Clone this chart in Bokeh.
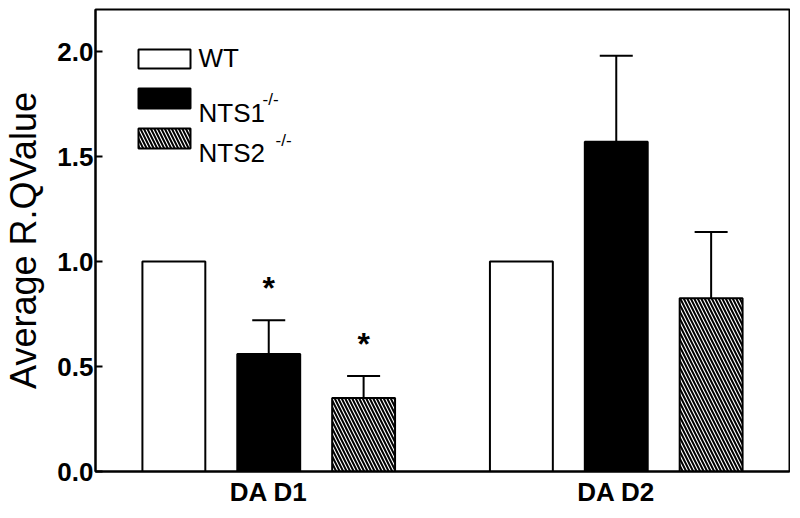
from bokeh.plotting import figure
from bokeh.models import (FactorRange, Range1d, ColumnDataSource, Whisker, TeeHead,
                          FixedTicker, Label, BoxAnnotation)
from bokeh.core.properties import value
from bokeh.embed import file_html
from bokeh.resources import INLINE

# ---- data ----
genes = ["DA D1", "DA D2"]
genotypes = ["WT", "NTS1", "NTS2"]
wt_mean = [1.0, 1.0]
wt_sem = [0.0, 0.0]
nts1_mean = [0.56, 1.57]
nts1_sem = [0.16, 0.41]
nts2_mean = [0.35, 0.825]
nts2_sem = [0.105, 0.315]
wt_star = ["", ""]
nts1_star = ["*", ""]
nts2_star = ["*", ""]
y_ticks = [0.0, 0.5, 1.0, 1.5, 2.0]
y_tick_labels = ["0.0", "0.5", "1.0", "1.5", "2.0"]
y_title = "Average R.QValue"

FONT = "Liberation Sans"

factors = [(g, t) for g in genes for t in genotypes]

p = figure(frame_width=694, frame_height=462, output_backend="svg", toolbar_location=None,
           x_range=FactorRange(*factors, group_padding=0.663,
                               range_padding=0.326, range_padding_units="absolute"),
           y_range=Range1d(0, 2.2),
           min_border_left=89, min_border_right=1, min_border_top=9, min_border_bottom=39)

p.grid.visible = False
p.outline_line_color = "black"
p.outline_line_width = 2
p.outline_line_alpha = 1
p.background_fill_color = "white"
p.border_fill_color = "white"

styles = {
    "WT": dict(fill_color="white"),
    "NTS1": dict(fill_color="black"),
    "NTS2": dict(fill_color="white", hatch_pattern="\\", hatch_color="black",
                 hatch_scale=7, hatch_weight=2),
}
series = {
    "WT": (wt_mean, wt_sem, wt_star),
    "NTS1": (nts1_mean, nts1_sem, nts1_star),
    "NTS2": (nts2_mean, nts2_sem, nts2_star),
}

for gt in genotypes:
    m, s, st = series[gt]
    src = ColumnDataSource(dict(
        x=[(g, gt) for g in genes],
        top=m,
        upper=[a + b for a, b in zip(m, s)],
        star=st,
    ))
    p.vbar(x="x", top="top", width=0.663, source=src, line_color="black",
           line_width=2, **styles[gt])
    if any(v > 0 for v in s):
        w = Whisker(base="x", upper="upper", lower="top", source=src,
                    dimension="height", line_color="black", line_width=2,
                    upper_head=TeeHead(size=33, line_width=2, line_color="black"),
                    lower_head=None)
        p.add_layout(w)
        p.text(x="x", y="upper", text="star", source=src,
               text_font=value(FONT), text_font_size="32px", text_font_style="bold",
               text_align="center", text_baseline="bottom", y_offset=-14,
               text_color="black")

# ---- axes ----
yax = p.yaxis[0]
yax.ticker = FixedTicker(ticks=y_ticks)
yax.major_label_overrides = {t: l for t, l in zip(y_ticks, y_tick_labels)}
yax.minor_tick_line_color = None
yax.major_tick_in = 7
yax.major_tick_out = 0
yax.major_tick_line_width = 2
yax.major_tick_line_color = "black"
yax.axis_line_width = 2
yax.axis_line_color = "black"
yax.major_label_text_font = FONT
yax.major_label_text_font_style = "bold"
yax.major_label_text_font_size = "26px"
yax.major_label_text_color = "black"
yax.major_label_standoff = 2
yax.axis_label = y_title
yax.axis_label_text_font = FONT
yax.axis_label_text_font_style = "normal"
yax.axis_label_text_font_size = "36px"
yax.axis_label_text_color = "black"
yax.axis_label_standoff = 10

xax = p.xaxis[0]
xax.axis_line_width = 2
xax.axis_line_color = "black"
xax.major_tick_line_color = None
xax.major_tick_in = 0
xax.major_tick_out = 0
xax.minor_tick_line_color = None
xax.major_label_overrides = {t: "" for t in genotypes}
xax.major_label_text_font_size = "1px"
xax.major_label_text_color = None
xax.major_label_standoff = 5
xax.separator_line_color = None
xax.group_text_font = FONT
xax.group_text_font_style = "bold"
xax.group_text_font_size = "26px"
xax.group_text_color = "black"
xax.group_label_orientation = "horizontal"

# ---- legend (drawn manually) ----
leg_boxes = [
    (422, 403, styles["WT"]),
    (383, 363, styles["NTS1"]),
    (343, 323, styles["NTS2"]),
]
for top, bottom, st in leg_boxes:
    b = BoxAnnotation(left=43, right=95, top=top, bottom=bottom,
                      left_units="screen", right_units="screen",
                      top_units="screen", bottom_units="screen",
                      line_color="black", line_width=2, line_alpha=1,
                      fill_alpha=1, **st)
    p.add_layout(b)

leg_texts = [("WT", 103, 414, "26px"), ("NTS1", 103, 359, "26px"), ("NTS2", 103, 319, "26px"),
             ("-/-", 167, 372, "17px"), ("-/-", 180, 331, "17px")]
for txt, x, y, fs in leg_texts:
    p.add_layout(Label(x=x, y=y, x_units="screen", y_units="screen", text=txt,
                       text_font=FONT, text_font_size=fs, text_baseline="alphabetic",
                       text_color="black"))

open("out.html", "w").write(file_html(p, INLINE))
